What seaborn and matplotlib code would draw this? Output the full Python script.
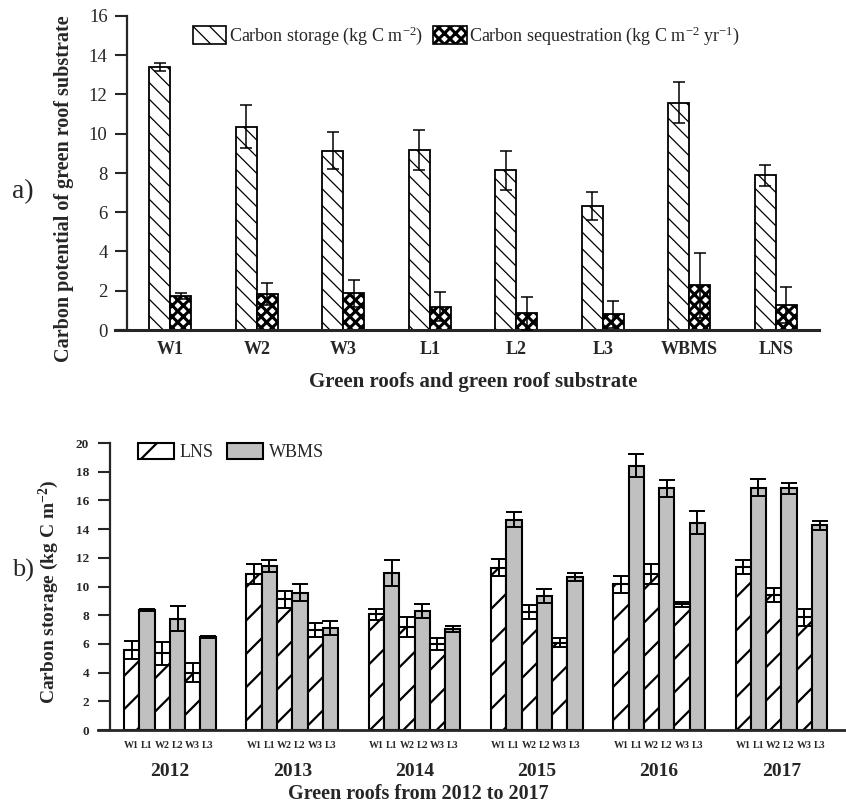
import numpy as np
import pandas as pd
import matplotlib
matplotlib.use("Agg")
import matplotlib.pyplot as plt
import seaborn as sns
from matplotlib.patches import Patch
from matplotlib.container import BarContainer

# ---------------- data ----------------
cats_a = ["W1", "W2", "W3", "L1", "L2", "L3", "WBMS", "LNS"]
storage = [13.42, 10.36, 9.13, 9.17, 8.13, 6.33, 11.58, 7.88]
storage_err = [0.2, 1.1, 0.95, 1.0, 1.0, 0.7, 1.05, 0.52]
seq = [1.73, 1.83, 1.87, 1.19, 0.85, 0.80, 2.28, 1.27]
seq_err = [0.13, 0.58, 0.68, 0.73, 0.85, 0.68, 1.66, 0.90]
series_a = ["Carbon storage (kg C m$^{-2}$)",
            "Carbon sequestration (kg C m$^{-2}$ yr$^{-1}$)"]

years = ["2012", "2013", "2014", "2015", "2016", "2017"]
roofs = ["W1", "L1", "W2", "L2", "W3", "L3"]
vals_b = {
    "2012": [5.57, 8.35, 5.34, 7.77, 3.99, 6.50],
    "2013": [10.86, 11.44, 9.12, 9.56, 6.96, 7.12],
    "2014": [8.05, 10.95, 7.19, 8.28, 5.99, 7.03],
    "2015": [11.32, 14.66, 8.24, 9.35, 6.08, 10.65],
    "2016": [10.14, 18.40, 10.86, 16.84, 8.75, 14.45],
    "2017": [11.37, 16.89, 9.40, 16.84, 7.84, 14.27],
}
errs_b = {
    "2012": [0.6, 0.05, 0.8, 0.9, 0.65, 0.07],
    "2013": [0.7, 0.4, 0.6, 0.6, 0.5, 0.5],
    "2014": [0.4, 0.9, 0.7, 0.5, 0.4, 0.2],
    "2015": [0.6, 0.5, 0.5, 0.5, 0.3, 0.3],
    "2016": [0.6, 0.8, 0.7, 0.6, 0.2, 0.8],
    "2017": [0.5, 0.6, 0.5, 0.4, 0.6, 0.3],
}
legend_b = ["LNS", "WBMS"]

# ---------------- style ----------------
sns.set_style("ticks")
plt.rcParams["font.family"] = ["Liberation Serif", "DejaVu Serif"]
plt.rcParams["mathtext.default"] = "regular"
plt.rcParams["hatch.color"] = "black"

W, H = 846, 805
fig = plt.figure(figsize=(W / 100, H / 100), dpi=100)

def fx(px):
    return px / W

def fy(py):
    return 1 - py / H

# ---------------- panel a ----------------
ax1 = fig.add_axes([fx(127), fy(330), fx(819 - 127), (330 - 16) / H])
df_a = pd.DataFrame({
    "cat": cats_a * 2,
    "val": storage + seq,
    "series": [series_a[0]] * len(cats_a) + [series_a[1]] * len(cats_a),
})
sns.barplot(data=df_a, x="cat", y="val", hue="series", order=cats_a,
            hue_order=series_a, palette=["white", "white"], width=0.49,
            gap=0, edgecolor="black", linewidth=1.3, errorbar=None,
            legend=False, ax=ax1, zorder=2)
hatches_a = ["\\\\", "xxx"]
hlw_a = [0.9, 2.2]
errs_a = [storage_err, seq_err]
bars_a = [c for c in ax1.containers if isinstance(c, BarContainer)]
for i, cont in enumerate(bars_a):
    xs, ys = [], []
    for bar in cont.patches:
        bar.set_hatch(hatches_a[i])
        if hasattr(bar, "set_hatch_linewidth"):
            bar.set_hatch_linewidth(hlw_a[i])
        xs.append(bar.get_x() + bar.get_width() / 2)
        ys.append(bar.get_height())
    ax1.errorbar(xs, ys, yerr=errs_a[i], fmt="none", ecolor="black",
                 elinewidth=1.1, capsize=4, capthick=1.1, zorder=3)

ax1.set_xlim(-0.5, 7.5)
ax1.set_ylim(0, 16)
ax1.set_yticks(np.arange(0, 17, 2))
ax1.tick_params(axis="y", length=9, width=1.5, direction="out", pad=5,
                labelsize=13.5)
ax1.tick_params(axis="x", length=0, pad=8, labelsize=13)
for lab in ax1.get_xticklabels():
    lab.set_fontweight("bold")
sns.despine(ax=ax1)
ax1.spines["left"].set_linewidth(1.6)
ax1.spines["bottom"].set_linewidth(2.2)
ax1.spines["bottom"].set_bounds(-0.64, 7.5)
ax1.set_xlabel("Green roofs and green roof substrate", fontsize=15,
               fontweight="bold", labelpad=10)
ax1.set_ylabel("Carbon potential of green roof substrate", fontsize=14.5,
               fontweight="bold")
ax1.yaxis.set_label_coords(-0.076, 0.45)

handles_a = [
    Patch(facecolor="white", edgecolor="black", hatch="\\\\",
          linewidth=1.2, label=series_a[0]),
    Patch(facecolor="white", edgecolor="black", hatch="xxx",
          linewidth=1.2, label=series_a[1]),
]
leg_a = fig.legend(handles=handles_a, loc="center left",
                   bbox_to_anchor=(fx(193), fy(36)), ncol=2, frameon=False,
                   fontsize=13, handlelength=1.85, handleheight=1.1,
                   handletextpad=0.15, columnspacing=0.55, borderpad=0,
                   borderaxespad=0)
for p, lw in zip(leg_a.get_patches(), hlw_a):
    if hasattr(p, "set_hatch_linewidth"):
        p.set_hatch_linewidth(lw)

fig.text(fx(12), fy(192), "a)", fontsize=20, va="center", ha="left")

# ---------------- panel b ----------------
ax2 = fig.add_axes([fx(110), fy(730), fx(845 - 110), (730 - 443) / H])
rows = []
for y in years:
    for r, v, e in zip(roofs, vals_b[y], errs_b[y]):
        rows.append({"year": y, "roof": r, "val": v, "err": e})
df_b = pd.DataFrame(rows)
pal_b = {r: ("white" if r.startswith("W") else "#c0c0c0") for r in roofs}
sns.barplot(data=df_b, x="year", y="val", hue="roof", order=years,
            hue_order=roofs, palette=pal_b, width=0.75, gap=0,
            edgecolor="black", linewidth=1.5, errorbar=None, legend=False,
            ax=ax2, zorder=2)
minor_pos, minor_lab = [], []
bars_b = [c for c in ax2.containers if isinstance(c, BarContainer)]
for j, cont in enumerate(bars_b):
    xs, ys = [], []
    for bar in cont.patches:
        if roofs[j].startswith("W"):
            bar.set_hatch("/")
            if hasattr(bar, "set_hatch_linewidth"):
                bar.set_hatch_linewidth(1.6)
        xs.append(bar.get_x() + bar.get_width() / 2)
        ys.append(bar.get_height())
    e = [errs_b[y][j] for y in years]
    ax2.errorbar(xs, ys, yerr=e, fmt="none", ecolor="black",
                 elinewidth=1.4, capsize=5.5, capthick=1.4, zorder=3)
    minor_pos += xs
    minor_lab += [roofs[j]] * len(xs)

ax2.set_xlim(-0.49, 5.52)
ax2.set_ylim(0, 20)
ax2.set_yticks(np.arange(0, 21, 2))
ax2.tick_params(axis="y", length=9, width=1.5, direction="out", pad=6,
                labelsize=9.5)
for lab in ax2.get_yticklabels():
    lab.set_fontweight("bold")
ax2.set_xticks(minor_pos, minor=True)
ax2.set_xticklabels(minor_lab, minor=True, fontsize=7.2, fontweight="bold")
ax2.set_xticks(range(len(years)))
ax2.set_xticklabels(years, fontsize=14, fontweight="bold")
ax2.tick_params(axis="x", which="minor", length=0, pad=8)
ax2.tick_params(axis="x", which="major", length=0, pad=24)
sns.despine(ax=ax2)
ax2.spines["left"].set_linewidth(1.6)
ax2.spines["bottom"].set_linewidth(2.0)
ax2.spines["bottom"].set_bounds(-0.59, 5.52)
ax2.set_xlabel("Green roofs from 2012 to 2017", fontsize=14.5,
               fontweight="bold")
ax2.xaxis.set_label_coords(0.42, -0.188)
ax2.set_ylabel("Carbon storage (kg C m$^{-2}$)", fontsize=14,
               fontweight="bold")
ax2.yaxis.set_label_coords(-0.066, 0.48)

handles_b = [
    Patch(facecolor="white", edgecolor="black", hatch="/", linewidth=1.5,
          label=legend_b[0]),
    Patch(facecolor="#c0c0c0", edgecolor="black", linewidth=1.5,
          label=legend_b[1]),
]
leg_b = fig.legend(handles=handles_b, loc="center left",
                   bbox_to_anchor=(fx(138), fy(452)), ncol=2, frameon=False,
                   fontsize=13, handlelength=2.0, handleheight=1.0,
                   handletextpad=0.3, columnspacing=0.75, borderpad=0,
                   borderaxespad=0)
p0 = leg_b.get_patches()[0]
if hasattr(p0, "set_hatch_linewidth"):
    p0.set_hatch_linewidth(1.6)

fig.text(fx(12), fy(570), "b)", fontsize=19, va="center", ha="left")

fig.savefig("out.png", dpi=100)
